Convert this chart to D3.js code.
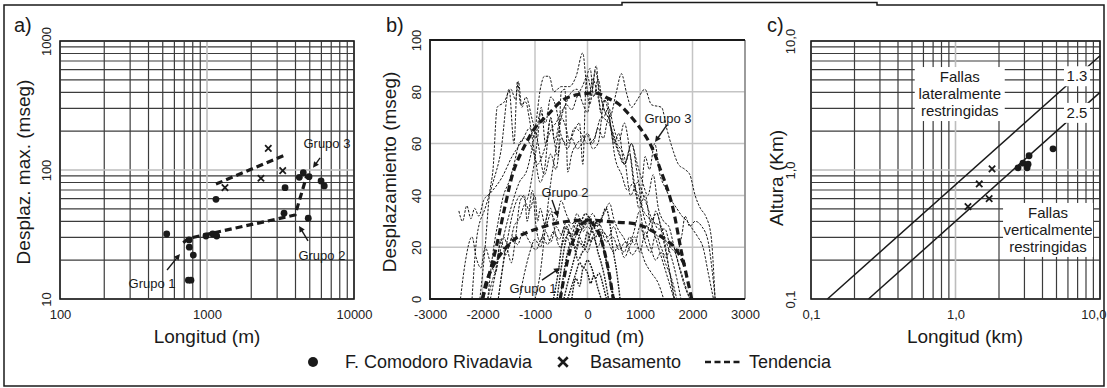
<!DOCTYPE html>
<html>
<head>
<meta charset="utf-8">
<script src="https://cdn.jsdelivr.net/npm/d3@7"></script>
<style>
  body { margin: 0; background: #fff; }
  svg { display: block; font-family: "Liberation Sans", Arial, sans-serif; }
</style>
</head>
<body>
<svg id="chart" width="1107" height="388"></svg>
<script>
// ---------- panel a) : desplazamiento max. vs longitud (log-log) ----------
const aXTicks = [100, 1000, 10000];
const aXLabels = ["100", "1000", "10000"];
const aYTicks = [10, 100, 1000];
const aYLabels = ["10", "100", "1000"];

// F. Comodoro Rivadavia [longitud m, desplaz. mseg]
const aComodoro = [
  [532, 31.9], [755, 28.7], [758, 25.2], [807, 21.9], [747, 14.0], [778, 14.0],
  [984, 30.8], [1094, 31.9], [1164, 30.8], [1151, 59.3], [3396, 73.0], [3342, 46.2],
  [4885, 42.3], [4246, 87.7], [4519, 95.2], [4943, 88.8], [5970, 82.2], [6277, 75.2]
];
// Basamento
const aBasamento = [[2612, 147.2], [1325, 73.0], [2328, 86.3], [3273, 98.9]];
// tendencias
const aTrendBasamento = [[1151, 77.8], [3396, 130.6]];
const aTrendComodoro = [[690, 27.3], [747, 29.5], [3972, 44.8], [4786, 91.4]];
// labels: [text, labelX, labelY, arrowFromX, arrowFromY, arrowToX, arrowToY]
const aNotes = [
  ["Grupo 3", 6546, 162, 5875, 124, 5260, 104],
  ["Grupo 2", 6050, 21.9, 4865, 28.2, 4230, 36.8],
  ["Grupo 1", 423, 13.3, 535, 16.8, 655, 22.3]
];

// ---------- panel b) : perfiles de desplazamiento ----------
const bXTicks = [-3000, -2000, -1000, 0, 1000, 2000, 3000];
const bYTicks = [0, 20, 40, 60, 80, 100];

const bGrupo3 = [
  [[-2050, 0], [-1950, 20], [-1870, 40], [-1800, 50], [-1720, 74], [-1590, 76], [-1460, 81], [-1370, 77], [-1316, 84], [-1250, 74], [-1175, 78], [-1050, 69], [-950, 61], [-820, 48], [-700, 56], [-600, 50], [-500, 62], [-380, 58], [-250, 66], [-120, 64], [0, 60], [130, 62], [260, 70], [400, 68], [560, 60], [700, 55], [820, 40], [950, 45], [1100, 38], [1250, 30], [1400, 28], [1550, 12], [1650, 0]],
  [[-1850, 0], [-1700, 15], [-1500, 32], [-1300, 45], [-1150, 50], [-1000, 65], [-890, 82], [-820, 86], [-730, 86], [-640, 80], [-500, 82], [-345, 82], [-217, 86], [-90, 95], [-30, 85], [40, 75], [166, 90], [250, 72], [360, 78], [450, 66], [581, 57], [700, 52], [840, 60], [950, 48], [1050, 35], [1200, 30], [1350, 20], [1500, 10], [1650, 0]],
  [[-1700, 0], [-1550, 20], [-1400, 35], [-1270, 40], [-1170, 38], [-1050, 48], [-950, 62], [-880, 74], [-800, 60], [-700, 70], [-630, 61], [-500, 70], [-408, 66], [-345, 61], [-250, 65], [-153, 68], [-89, 52], [-26, 84], [50, 89], [120, 78], [200, 85], [300, 74], [420, 70], [550, 80], [645, 87], [750, 79], [837, 74], [950, 77], [1092, 81], [1220, 75], [1411, 74], [1507, 66], [1635, 57], [1731, 52], [1858, 50], [1950, 48], [2050, 40], [2150, 35], [2250, 32], [2350, 25], [2430, 0]],
  [[-2200, 0], [-2100, 25], [-1950, 35], [-1800, 45], [-1650, 57], [-1494, 81], [-1400, 60], [-1335, 84], [-1271, 75], [-1175, 76], [-1111, 70], [-1000, 55], [-900, 45], [-820, 50], [-700, 70], [-632, 61], [-560, 55], [-500, 80], [-430, 81], [-376, 49], [-300, 56], [-200, 60], [-100, 62], [0, 63], [100, 58], [200, 60], [326, 77], [454, 66], [581, 58], [709, 52], [837, 60], [950, 52], [1050, 45], [1150, 40], [1250, 48], [1350, 35], [1450, 30], [1550, 28], [1650, 20], [1750, 12], [1850, 5], [1950, 0]],
  [[-1900, 0], [-1800, 18], [-1700, 30], [-1600, 40], [-1500, 45], [-1400, 52], [-1300, 60], [-1200, 62], [-1050, 58], [-950, 52], [-850, 56], [-760, 62], [-680, 66], [-600, 68], [-500, 72], [-400, 75], [-300, 73], [-200, 78], [-100, 82], [0, 86], [80, 80], [150, 88], [230, 80], [320, 73], [430, 68], [520, 55], [650, 48], [760, 42], [880, 45], [980, 35], [1100, 40], [1200, 30], [1320, 33], [1420, 25], [1550, 12], [1660, 0]],
  [[-1000, 0], [-900, 10], [-800, 28], [-700, 45], [-600, 58], [-500, 70], [-400, 76], [-300, 80], [-200, 81], [-100, 76], [0, 72], [100, 85], [200, 78], [300, 70], [400, 74], [500, 66], [600, 61], [700, 68], [800, 58], [900, 42], [1000, 38], [1100, 55], [1180, 50], [1280, 60], [1380, 48], [1480, 43], [1600, 38], [1700, 35], [1800, 32], [1900, 30], [2000, 27], [2100, 24], [2200, 20], [2300, 10], [2400, 0]],
  [[-2450, 34], [-2380, 30], [-2300, 36], [-2220, 31], [-2150, 35], [-2070, 32], [-1980, 38], [-1845, 41], [-1628, 47], [-1437, 55], [-1245, 61], [-1100, 66], [-1000, 62], [-900, 72], [-800, 68], [-700, 78], [-600, 74], [-500, 63], [-400, 60], [-300, 62], [-200, 58], [-100, 60], [0, 64], [100, 60], [200, 66], [300, 62], [400, 70], [500, 60], [600, 64], [700, 52], [800, 56], [900, 44], [1000, 38], [1100, 30], [1200, 26], [1300, 34], [1400, 28], [1500, 22], [1600, 16], [1700, 8], [1780, 0]]
];
const bGrupo2 = [
  [[-2420, 0], [-2330, 14], [-2200, 24], [-2120, 16], [-2030, 12], [-1950, 20], [-1850, 14], [-1750, 10], [-1654, 23], [-1560, 17], [-1430, 24], [-1330, 21], [-1230, 26], [-1100, 22], [-983, 19], [-856, 24], [-760, 21], [-650, 26], [-540, 23], [-430, 28], [-320, 24], [-200, 30], [-90, 26], [0, 28], [120, 25], [240, 27], [360, 22], [480, 24], [600, 19], [720, 22], [850, 17], [980, 20], [1100, 14], [1220, 10], [1350, 6], [1450, 0]],
  [[-1900, 0], [-1800, 8], [-1750, 11], [-1700, 18], [-1600, 24], [-1500, 20], [-1400, 28], [-1300, 31], [-1175, 37], [-1111, 34], [-1000, 40], [-950, 30], [-900, 35], [-800, 28], [-700, 33], [-600, 30], [-504, 38], [-408, 33], [-300, 29], [-200, 31], [-100, 27], [0, 30], [100, 33], [200, 29], [293, 32], [421, 37], [500, 31], [581, 27], [680, 24], [772, 21], [870, 25], [996, 34], [1092, 23], [1220, 31], [1350, 27], [1475, 27], [1580, 20], [1667, 18], [1760, 12], [1850, 6], [1950, 0]],
  [[-1300, 0], [-1200, 10], [-1100, 18], [-1000, 23], [-900, 20], [-800, 26], [-700, 22], [-600, 28], [-500, 25], [-400, 30], [-300, 27], [-200, 33], [-100, 29], [0, 31], [100, 27], [200, 30], [300, 26], [400, 24], [500, 28], [600, 22], [700, 18], [800, 24], [900, 21], [1000, 28], [1100, 22], [1200, 18], [1300, 25], [1400, 20], [1500, 16], [1600, 22], [1700, 18], [1800, 25], [1858, 32], [1950, 28], [2050, 30], [2178, 28], [2300, 22], [2380, 10], [2433, 0]],
  [[-1700, 0], [-1620, 12], [-1550, 20], [-1450, 14], [-1380, 22], [-1280, 38], [-1200, 40], [-1150, 30], [-1050, 42], [-980, 28], [-900, 22], [-800, 30], [-700, 35], [-620, 26], [-520, 20], [-400, 24], [-300, 20], [-200, 25], [-100, 22], [0, 18], [100, 24], [200, 20], [300, 26], [400, 22], [500, 18], [600, 21], [700, 16], [800, 20], [900, 24], [1000, 18], [1100, 26], [1200, 20], [1300, 15], [1400, 18], [1500, 13], [1600, 8], [1700, 0]]
];
const bGrupo1 = [
  [[-580, 0], [-500, 12], [-420, 22], [-350, 26], [-280, 24], [-200, 28], [-120, 30], [-40, 33], [40, 31], [120, 28], [200, 25], [280, 22], [360, 15], [430, 8], [500, 0]],
  [[-520, 0], [-450, 10], [-380, 18], [-300, 22], [-220, 20], [-150, 25], [-80, 28], [0, 30], [80, 27], [150, 24], [230, 26], [300, 20], [380, 12], [450, 4], [520, 0]],
  [[-450, 0], [-380, 6], [-300, 12], [-220, 18], [-150, 22], [-80, 20], [0, 26], [60, 22], [120, 24], [200, 18], [260, 14], [330, 8], [400, 0]],
  [[-380, 0], [-300, 5], [-220, 10], [-150, 14], [-80, 12], [0, 15], [80, 12], [150, 8], [220, 10], [300, 5], [360, 0]],
  [[-300, 0], [-220, 8], [-150, 5], [-80, 12], [0, 10], [60, 6], [120, 9], [200, 4], [260, 0]],
  [[-650, 0], [-560, 10], [-480, 22], [-400, 28], [-320, 24], [-250, 20], [-180, 15], [-100, 18], [-30, 20], [50, 25], [130, 30], [200, 28], [280, 32], [350, 35], [420, 30], [480, 20], [560, 10], [620, 0]]
];
const bTrend3 = [[-2000, 0], [-1750, 19], [-1558, 37], [-1398, 50], [-1175, 60], [-983, 66.5], [-760, 71], [-472, 76.8], [-217, 78.8], [0, 79.4], [198, 79.4], [389, 77.5], [581, 75.5], [772, 71.7], [1028, 65.3], [1220, 58.8], [1379, 50.5], [1603, 37], [1795, 17.6], [1986, 0]];
const bTrend2 = [[-2000, 0], [-1916, 7.3], [-1700, 16], [-1360, 23.5], [-920, 27.4], [-479, 29.7], [0, 30.5], [517, 29.7], [996, 28.6], [1418, 23.9], [1667, 19.7], [1850, 13]];
const bTrend1 = [[-520, 0], [-430, 10], [-330, 19], [-200, 26], [-80, 29.5], [30, 30], [150, 28], [260, 23], [360, 15], [430, 8], [490, 0]];
const bNotes = [
  ["Grupo 3", 1533, 69.9, 1514, 67.2, 1286, 60.6],
  ["Grupo 2", -429, 41.3, -676, 38.2, -562, 31.7],
  ["Grupo 1", -1038, 4.2, -867, 7.3, -524, 12]
];

// ---------- panel c) : altura vs longitud ----------
const cXTicks = [0.1, 1, 10];
const cXLabels = ["0,1", "1,0", "10,0"];
const cYTicks = [0.1, 1, 10];
const cYLabels = ["0,1", "1,0", "10,0"];
const cComodoro = [[2.71, 1.04], [2.93, 1.13], [3.13, 1.04], [3.18, 1.11], [3.23, 1.29], [4.73, 1.46]];
const cBasamento = [[1.79, 1.02], [1.46, 0.78], [1.71, 0.60], [1.22, 0.52]];
const cRatios = ["1.3", "2.5"];
const cRatioLabelAt = 6.93;
const cZones = [
  [["Fallas", "lateralmente", "restringidas"], 1.07, 3.88],
  [["Fallas", "verticalmente", "restringidas"], 4.37, 0.343]
];

const legendItems = ["F. Comodoro Rivadavia", "Basamento", "Tendencia"];

/********************************************************************/
const svg = d3.select("#chart");
const INK = "#1a1a1a";

const aX = d3.scaleLog().domain([100, 10000]).range([60, 354]);
const aY = d3.scaleLog().domain([10, 1000]).range([299, 41]);
const bX = d3.scaleLinear().domain([-3000, 3000]).range([430, 745]);
const bY = d3.scaleLinear().domain([0, 100]).range([299, 40]);
const cX = d3.scaleLog().domain([0.1, 10]).range([811, 1100]);
const cY = d3.scaleLog().domain([0.1, 10]).range([299, 41]);

// outer frame (top edge has a raised piece in the middle)
const frame = svg.append("g").attr("stroke", INK).attr("stroke-width", 1.5).attr("fill", "none");
frame.append("path").attr("d", "M4,5H622V2.5H877V5H1104V386H4Z");

function isMajor(v) {
  const l = Math.log10(v);
  return Math.abs(l - Math.round(l)) < 1e-6;
}

function logGrid(x, y) {
  const g = svg.append("g");
  const [x0, x1] = x.range();
  const [y0, y1] = y.range();
  const xt = x.ticks();
  const yt = y.ticks();
  // minor lines dark, decade lines light grey
  g.selectAll("line.vmin").data(xt.filter(d => !isMajor(d))).join("line")
    .attr("x1", d => x(d)).attr("x2", d => x(d)).attr("y1", y0).attr("y2", y1)
    .attr("stroke", "#3c3c3c").attr("stroke-width", 1.2);
  g.selectAll("line.hmin").data(yt.filter(d => !isMajor(d))).join("line")
    .attr("y1", d => y(d)).attr("y2", d => y(d)).attr("x1", x0).attr("x2", x1)
    .attr("stroke", "#3c3c3c").attr("stroke-width", 1.2);
  g.selectAll("line.vmaj").data(xt.filter(isMajor)).join("line")
    .attr("x1", d => x(d)).attr("x2", d => x(d)).attr("y1", y0).attr("y2", y1)
    .attr("stroke", "#bdbdbd").attr("stroke-width", 1.6);
  g.selectAll("line.hmaj").data(yt.filter(isMajor)).join("line")
    .attr("y1", d => y(d)).attr("y2", d => y(d)).attr("x1", x0).attr("x2", x1)
    .attr("stroke", "#bdbdbd").attr("stroke-width", 1.6);
  g.append("rect").attr("x", x0).attr("y", y1).attr("width", x1 - x0).attr("height", y0 - y1)
    .attr("fill", "none").attr("stroke", INK).attr("stroke-width", 1.6);
}

function axes(x, y, xTicks, xLabels, yTicks, yLabels, yOff) {
  const gx = svg.append("g")
    .attr("transform", `translate(0,${y.range()[0]})`)
    .call(d3.axisBottom(x).tickValues(xTicks).tickSize(0).tickPadding(11)
      .tickFormat((d, i) => xLabels[i]));
  const gy = svg.append("g")
    .attr("transform", `translate(${x.range()[0]},0)`)
    .call(d3.axisLeft(y).tickValues(yTicks).tickSize(0)
      .tickFormat((d, i) => yLabels[i]));
  [gx, gy].forEach(g => {
    g.select(".domain").remove();
    g.attr("font-family", null).attr("font-size", 13);
    g.selectAll("text").attr("fill", "#222");
  });
  gy.selectAll("text")
    .attr("x", 0).attr("dy", 0)
    .attr("text-anchor", "middle")
    .attr("transform", `translate(${-yOff},0) rotate(-90)`);
  return gx;
}

function title(txt, x, y, rotate) {
  svg.append("text").text(txt)
    .attr("font-size", 19).attr("fill", INK).attr("text-anchor", "middle")
    .attr("transform", rotate ? `translate(${x},${y}) rotate(-90)` : `translate(${x},${y})`);
}

function dots(data, x, y, r) {
  svg.append("g").selectAll("circle").data(data).join("circle")
    .attr("cx", d => x(d[0])).attr("cy", d => y(d[1])).attr("r", r).attr("fill", INK);
}

function crosses(data, x, y, size) {
  svg.append("g").selectAll("path").data(data).join("path")
    .attr("transform", d => `translate(${x(d[0])},${y(d[1])})`)
    .attr("d", d3.symbol(d3.symbolX, size))
    .attr("stroke", INK).attr("stroke-width", 1.8).attr("fill", "none");
}

function notes(list, x, y) {
  const g = svg.append("g");
  list.forEach(n => {
    g.append("text").text(n[0])
      .attr("x", x(n[1])).attr("y", y(n[2])).attr("dy", "0.35em")
      .attr("text-anchor", "middle").attr("font-size", 13).attr("fill", INK);
    const x1 = x(n[3]), y1 = y(n[4]), x2 = x(n[5]), y2 = y(n[6]);
    const ang = Math.atan2(y2 - y1, x2 - x1);
    g.append("line").attr("x1", x1).attr("y1", y1)
      .attr("x2", x2 - 4 * Math.cos(ang)).attr("y2", y2 - 4 * Math.sin(ang))
      .attr("stroke", INK).attr("stroke-width", 1.4);
    const h = 6, w = 3;
    const p = [
      [x2, y2],
      [x2 - h * Math.cos(ang) + w * Math.sin(ang), y2 - h * Math.sin(ang) - w * Math.cos(ang)],
      [x2 - h * Math.cos(ang) - w * Math.sin(ang), y2 - h * Math.sin(ang) + w * Math.cos(ang)]
    ];
    g.append("path").attr("d", "M" + p.join("L") + "Z").attr("fill", INK);
  });
}

const trendStyle = sel => sel.attr("fill", "none").attr("stroke", INK)
  .attr("stroke-width", 3.2).attr("stroke-dasharray", "7,4");

/********************* panel a *********************/
logGrid(aX, aY);
axes(aX, aY, aXTicks, aXLabels, aYTicks, aYLabels, 9);
title("Longitud (m)", 207, 343, false);
title("Desplaz. max. (mseg)", 30, 172, true);
svg.append("text").text("a)").attr("x", 14).attr("y", 32).attr("font-size", 20).attr("fill", INK);

const aLine = d3.line().x(d => aX(d[0])).y(d => aY(d[1]));
svg.append("path").attr("d", aLine(aTrendBasamento)).call(trendStyle);
svg.append("path").attr("d", aLine(aTrendComodoro)).call(trendStyle);
dots(aComodoro, aX, aY, 3.4);
crosses(aBasamento, aX, aY, 28);
notes(aNotes, aX, aY);

/********************* panel b *********************/
{
  const [x0, x1] = bX.range();
  const [y0, y1] = bY.range();
  const g = svg.append("g");
  g.selectAll("line.v").data(bXTicks).join("line")
    .attr("x1", d => bX(d)).attr("x2", d => bX(d)).attr("y1", y0).attr("y2", y1)
    .attr("stroke", "#c4c4c4").attr("stroke-width", 1.5);
  g.selectAll("line.h").data(bYTicks).join("line")
    .attr("y1", d => bY(d)).attr("y2", d => bY(d)).attr("x1", x0).attr("x2", x1)
    .attr("stroke", "#c4c4c4").attr("stroke-width", 1.5);
  g.append("path").attr("d", `M${x1},${y1}V${y0}`).attr("stroke", "#777").attr("stroke-width", 1.2);
  g.append("path").attr("d", `M${x1},${y1}H${x0}V${y0}H${x1}`)
    .attr("fill", "none").attr("stroke", INK).attr("stroke-width", 1.8);

  svg.append("clipPath").attr("id", "clipB").append("rect")
    .attr("x", x0).attr("y", y1).attr("width", x1 - x0).attr("height", y0 - y1);
}
axes(bX, bY, bXTicks, bXTicks.map(String), bYTicks, bYTicks.map(String), 9);
title("Longitud (m)", 591, 343, false);
title("Desplazamiento (mseg)", 396, 172, true);
svg.append("text").text("b)").attr("x", 386).attr("y", 32).attr("font-size", 20).attr("fill", INK);

const bLine = d3.line().x(d => bX(d[0])).y(d => bY(d[1])).curve(d3.curveMonotoneX);
const bPlot = svg.append("g").attr("clip-path", "url(#clipB)");
bPlot.selectAll("path.g3").data(bGrupo3).join("path")
  .attr("d", bLine).attr("fill", "none").attr("stroke", INK)
  .attr("stroke-width", 1).attr("stroke-dasharray", "2.5,1.5");
bPlot.selectAll("path.g2").data(bGrupo2).join("path")
  .attr("d", bLine).attr("fill", "none").attr("stroke", INK)
  .attr("stroke-width", 1).attr("stroke-dasharray", "2.5,1.5");
bPlot.selectAll("path.g1").data(bGrupo1).join("path")
  .attr("d", bLine).attr("fill", "none").attr("stroke", INK)
  .attr("stroke-width", 1.4).attr("stroke-dasharray", "2,1.2");
const bTrendLine = d3.line().x(d => bX(d[0])).y(d => bY(d[1])).curve(d3.curveCatmullRom);
[bTrend3, bTrend2, bTrend1].forEach(t => bPlot.append("path").attr("d", bTrendLine(t)).call(trendStyle));
notes(bNotes, bX, bY);

/********************* panel c *********************/
logGrid(cX, cY);
const cxAxis = axes(cX, cY, cXTicks, cXLabels, cYTicks, cYLabels, 16);
// last label sits against the frame: keep it inside the picture
cxAxis.selectAll("text").filter((d, i) => i === cXTicks.length - 1)
  .attr("text-anchor", "end").attr("dx", 6);
title("Longitud (km)", 965, 343, false);
title("Altura (Km)", 783, 178, true);
svg.append("text").text("c)").attr("x", 767).attr("y", 32).attr("font-size", 20).attr("fill", INK);

// lines H = L / ratio
cRatios.forEach(r => {
  const k = +r;
  const pts = [[0.1 * k, 0.1], [10, 10 / k]];
  svg.append("line")
    .attr("x1", cX(pts[0][0])).attr("y1", cY(pts[0][1]))
    .attr("x2", cX(pts[1][0])).attr("y2", cY(pts[1][1]))
    .attr("stroke", INK).attr("stroke-width", 1.5);
  const lx = cX(cRatioLabelAt), ly = cY(cRatioLabelAt / k);
  svg.append("rect").attr("x", lx - 13).attr("y", ly - 10).attr("width", 26).attr("height", 20).attr("fill", "#fff");
  svg.append("text").text(r).attr("x", lx).attr("y", ly).attr("dy", "0.35em")
    .attr("text-anchor", "middle").attr("font-size", 15).attr("fill", INK);
});
cZones.forEach(z => {
  const cx = cX(z[1]), cy = cY(z[2]);
  svg.append("rect").attr("x", cx - 45).attr("y", cy - 27).attr("width", 90).attr("height", 54).attr("fill", "#fff");
  z[0].forEach((s, i) => {
    svg.append("text").text(s).attr("x", cx).attr("y", cy + (i - 1) * 17).attr("dy", "0.35em")
      .attr("text-anchor", "middle").attr("font-size", 15).attr("fill", INK);
  });
});
dots(cComodoro, cX, cY, 3.4);
crosses(cBasamento, cX, cY, 28);

/********************* legend *********************/
{
  const g = svg.append("g").attr("font-size", 18).attr("fill", INK);
  const ly = 362;
  g.append("circle").attr("cx", 313).attr("cy", ly).attr("r", 5).attr("fill", INK);
  g.append("text").text(legendItems[0]).attr("x", 345).attr("y", ly).attr("dy", "0.35em");
  g.append("path").attr("transform", `translate(563,${ly})`).attr("d", d3.symbol(d3.symbolX, 60))
    .attr("stroke", INK).attr("stroke-width", 2.6).attr("fill", "none");
  g.append("text").text(legendItems[1]).attr("x", 590).attr("y", ly).attr("dy", "0.35em");
  g.append("line").attr("x1", 705).attr("x2", 743).attr("y1", ly).attr("y2", ly)
    .attr("stroke", INK).attr("stroke-width", 2.6).attr("stroke-dasharray", "6,3.5");
  g.append("text").text(legendItems[2]).attr("x", 749).attr("y", ly).attr("dy", "0.35em");
}
</script>
</body>
</html>
